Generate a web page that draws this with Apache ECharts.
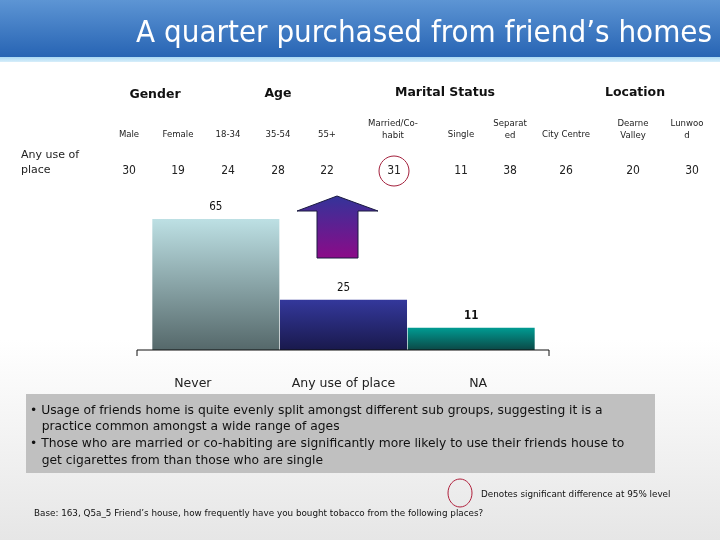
<!DOCTYPE html>
<html>
<head>
<meta charset="utf-8">
<script src="https://cdn.jsdelivr.net/npm/echarts@6/dist/echarts.min.js"></script>
<style>html,body{margin:0;padding:0;background:#fff}#c{width:720px;height:540px}</style>
</head>
<body>
<div id="c"></div>
<script>
// ---- data ----
const titleText = 'A quarter purchased from friend\u2019s homes';
const categories = ['Never', 'Any use of place', 'NA'];
const values = [65, 25, 11];
const groupNames = ['Gender', 'Age', 'Marital Status', 'Location'];
const subgroupLabels = ['Male', 'Female', '18-34', '35-54', '55+', 'Married/Co-\nhabit', 'Single', 'Separat\ned', 'City Centre', 'Dearne\nValley', 'Lunwoo\nd'];
const subgroupValues = [30, 19, 24, 28, 22, 31, 11, 38, 26, 20, 30];
const significantIndex = [5];
const rowLabel = 'Any use of\nplace';
const bullets = [
  '\u2022 Usage of friends home is quite evenly split amongst different sub groups, suggesting it is a\n   practice common amongst a wide range of ages',
  '\u2022 Those who are married or co-habiting are significantly more likely to use their friends house to\n   get cigarettes from than those who are single'
];
const legendNote = 'Denotes significant difference at 95% level';
const baseNote = 'Base: 163, Q5a_5 Friend\u2019s house, how frequently have you bought tobacco from the following places?';

// ---- layout (not data) ----
const groupX = [155, 278, 445, 635];
const groupY = [95, 94, 93, 93];
const colX = [129, 178, 228, 278, 327, 393, 461, 510, 566, 633, 687];
const valX = [129, 178, 228, 278, 327, 394, 461, 510, 566, 633, 692];
const labelShift = [-23, 0, 7];
const FONTC = '"DejaVu Sans Condensed", "DejaVu Sans", sans-serif';
const FONT = '"DejaVu Sans", sans-serif';

const barGradients = [
  ['#bde0e4', '#55686a'],
  ['#34389c', '#19194c'],
  ['#009b92', '#0b4846']
];

const chart = echarts.init(document.getElementById('c'), null, {renderer: 'canvas'});

const graphics = [];
graphics.push({type: 'rect', z: -10, shape: {x: 0, y: 340, width: 720, height: 200},
  style: {fill: new echarts.graphic.LinearGradient(0, 0, 0, 1, [{offset: 0, color: '#ffffff'}, {offset: 1, color: '#e6e6e6'}])}});
graphics.push({type: 'rect', z: -5, shape: {x: 0, y: 0, width: 720, height: 58},
  style: {fill: new echarts.graphic.LinearGradient(0, 0, 0, 1, [{offset: 0, color: '#5d95d4'}, {offset: 1, color: '#2663b3'}])}});
graphics.push({type: 'rect', z: -5, shape: {x: 0, y: 57, width: 720, height: 5},
  style: {fill: new echarts.graphic.LinearGradient(0, 0, 0, 1, [{offset: 0, color: '#a8d8f4'}, {offset: 1, color: '#d8eefa'}])}});
graphics.push({type: 'text', z: 5, x: 712, y: 34, style: {text: titleText, fill: '#ffffff', font: '31px ' + FONTC, align: 'right', verticalAlign: 'middle'}});

// table
groupNames.forEach((g, i) => graphics.push({type: 'text', x: groupX[i], y: groupY[i],
  style: {text: g, fill: '#111', font: 'bold 12.5px ' + FONT, align: 'center', verticalAlign: 'middle'}}));
subgroupLabels.forEach((s, i) => {
  const two = s.indexOf('\n') >= 0;
  graphics.push({type: 'text', x: colX[i], y: two ? 130 : 135,
    style: {text: s, fill: '#222', font: '9.5px ' + FONTC, align: 'center', verticalAlign: 'middle', lineHeight: 12}});
});
subgroupValues.forEach((v, i) => graphics.push({type: 'text', x: valX[i], y: 171,
  style: {text: String(v), fill: '#222', font: '12px ' + FONTC, align: 'center', verticalAlign: 'middle'}}));
significantIndex.forEach(i => graphics.push({type: 'ellipse', shape: {cx: valX[i], cy: 171, rx: 15, ry: 15},
  style: {fill: 'none', stroke: '#a3203c', lineWidth: 1}}));
graphics.push({type: 'text', x: 21, y: 163, style: {text: rowLabel, fill: '#222', font: '11px ' + FONT, align: 'left', verticalAlign: 'middle', lineHeight: 15}});

// arrow
graphics.push({type: 'polygon', z: 3, shape: {points: [[297, 211], [337, 196], [378, 211], [358, 211], [358, 258], [317, 258], [317, 211]]},
  style: {fill: new echarts.graphic.LinearGradient(0, 0, 0, 1, [{offset: 0, color: '#33349a'}, {offset: 1, color: '#8c0a88'}]), stroke: '#1a1a40', lineWidth: 1}});

// axis line with end ticks
graphics.push({type: 'polyline', z: 4, shape: {points: [[137, 356], [137, 350], [549, 350], [549, 356]]},
  style: {stroke: '#111', lineWidth: 1, fill: 'none'}});

// text box
graphics.push({type: 'rect', shape: {x: 26, y: 394, width: 629, height: 79}, style: {fill: '#c0c0c0'}});
graphics.push({type: 'text', x: 30, y: 402, style: {text: bullets.join('\n'), fill: '#111', font: '12.3px ' + FONT, lineHeight: 16.7, align: 'left', verticalAlign: 'top'}});

// footer
graphics.push({type: 'ellipse', shape: {cx: 460, cy: 493, rx: 12, ry: 14}, style: {fill: 'none', stroke: '#b0203c', lineWidth: 1}});
graphics.push({type: 'text', x: 481, y: 495, style: {text: legendNote, fill: '#111', font: '8.8px ' + FONT, align: 'left', verticalAlign: 'middle'}});
graphics.push({type: 'text', x: 34, y: 514, style: {text: baseNote, fill: '#111', font: '8.8px ' + FONT, align: 'left', verticalAlign: 'middle'}});

chart.setOption({
  animation: false,
  backgroundColor: '#ffffff',
  grid: {left: 152, right: 185, top: 148.5, height: 201.5},
  xAxis: {
    type: 'category', data: categories,
    axisLine: {show: false}, axisTick: {show: false},
    axisLabel: {
      interval: 0, margin: 27, fontSize: 12.5, color: '#222', fontFamily: FONT,
      formatter: (v, i) => '{c' + i + '|' + v + '}',
      rich: {
        c0: {padding: [0, -labelShift[0] * 2, 0, 0], fontSize: 12.5, fontFamily: FONT, color: '#222'},
        c1: {fontSize: 12.5, fontFamily: FONT, color: '#222'},
        c2: {padding: [0, 0, 0, labelShift[2] * 2], fontSize: 12.5, fontFamily: FONT, color: '#222'}
      }
    }
  },
  yAxis: {type: 'value', min: 0, max: 100, show: false, splitLine: {show: false}},
  series: [{
    type: 'bar', barCategoryGap: '0%', barWidth: '99.5%',
    data: values.map((v, i) => ({
      value: v,
      itemStyle: {color: new echarts.graphic.LinearGradient(0, 0, 0, 1, [{offset: 0, color: barGradients[i][0]}, {offset: 1, color: barGradients[i][1]}])},
      label: {fontWeight: i === 2 ? 'bold' : 'normal'}
    })),
    label: {show: true, position: 'top', distance: 6, color: '#111', fontSize: 11.5, fontFamily: FONTC}
  }],
  graphic: graphics
});
</script>
</body>
</html>
